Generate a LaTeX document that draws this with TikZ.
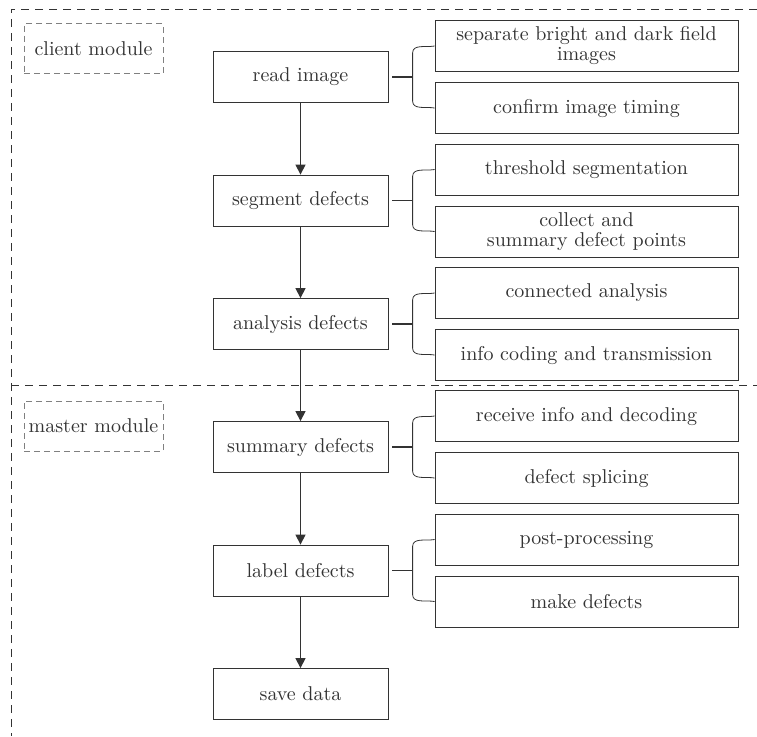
\documentclass[tikz,border=0pt]{standalone}
\usetikzlibrary{arrows.meta}
\definecolor{inkgray}{HTML}{333333}
\begin{document}
\begin{tikzpicture}[x=0.5pt,y=-0.5pt, inkgray, text=inkgray,
    mainbox/.style={draw, minimum width=87.5pt, minimum height=25.5pt, inner sep=1pt},
    subbox/.style={draw, minimum width=151.5pt, minimum height=25.5pt, inner sep=1pt, align=center},
    modbox/.style={draw=gray, densely dashed, minimum width=69.5pt, minimum height=25pt, inner sep=1pt},
    arr/.style={-{Triangle[width=5pt,length=5pt]}, semithick}]
    \useasboundingbox (0,0) rectangle (757,736);

    % dashed module frames
    \draw[dash pattern=on 4pt off 3pt] (757,9) -| (11,736);
    \draw[dash pattern=on 4pt off 3pt] (11,385) -- (757,385);
    \node[modbox] (client) at (93.5,48.5) {client module};
    \node[modbox] (master) at (93.5,426) {master module};

    % main steps
    \node[mainbox] (read) at (300.5,77) {read image};
    \node[mainbox] (seg) at (300.5,200.5) {segment defects};
    \node[mainbox] (ana) at (300.5,324) {analysis defects};
    \node[mainbox] (sum) at (300.5,447) {summary defects};
    \node[mainbox] (lab) at (300.5,570.5) {label defects};
    \node[mainbox] (save) at (300.5,694) {save data};

    % sub steps
    \node[subbox] (sep) at (586.5,46) {separate bright and dark field\\[-2pt]images};
    \node[subbox] (conf) at (586.5,108) {confirm image timing};
    \node[subbox] (thr) at (586.5,169.5) {threshold segmentation};
    \node[subbox] (coll) at (586.5,231.5) {collect and\\[-2pt]summary defect points};
    \node[subbox] (conn) at (586.5,293) {connected analysis};
    \node[subbox] (info) at (586.5,355) {info coding and transmission};
    \node[subbox] (recv) at (586.5,416) {receive info and decoding};
    \node[subbox] (splice) at (586.5,478) {defect splicing};
    \node[subbox] (post) at (586.5,539.5) {post-processing};
    \node[subbox] (make) at (586.5,601.5) {make defects};

    % flow
    \draw[arr] (read) -- (seg);
    \draw[arr] (seg) -- (ana);
    \draw[arr] (ana) -- (sum);
    \draw[arr] (sum) -- (lab);
    \draw[arr] (lab) -- (save);

    % brackets
    \foreach \m/\a/\b in {read/sep/conf, seg/thr/coll, ana/conn/info, sum/recv/splice, lab/post/make} {
        \draw[semithick] ([shift={(4,0)}]\m.east) -- ++(21,0);
        \draw (\a.west) to[out=190,in=90] ([shift={(-22,7)}]\a.west)
            -- ([shift={(-22,-7)}]\b.west) to[out=-90,in=170] (\b.west);
    }
\end{tikzpicture}
\end{document}
